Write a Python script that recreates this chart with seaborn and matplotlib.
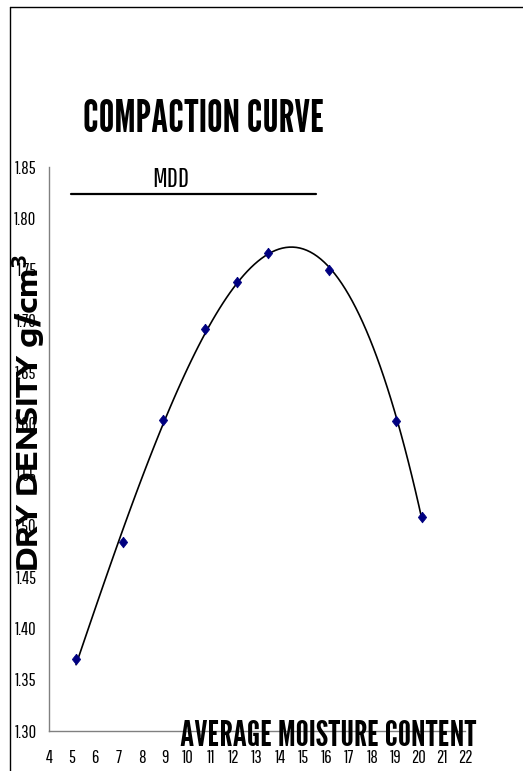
import matplotlib
matplotlib.use("Agg")
import matplotlib.pyplot as plt
import seaborn as sns
import pandas as pd
from matplotlib.lines import Line2D

# Data
moisture = [5.17, 7.2, 8.94, 10.75, 12.14, 13.48, 16.12, 19.02, 20.15]
dry_density = [1.370, 1.484, 1.603, 1.692, 1.738, 1.766, 1.750, 1.602, 1.509]
x_ticks = list(range(4, 23))
y_ticks = [1.30, 1.35, 1.40, 1.45, 1.50, 1.55, 1.60, 1.65, 1.70, 1.75, 1.80, 1.85]
mdd_level = 1.824
mdd_x = [4.95, 15.56]

df = pd.DataFrame({"moisture": moisture, "density": dry_density})

sns.set_theme(style="white")
TITLE_FONT = ["League Gothic", "Oswald", "DejaVu Sans"]
TICK_FONT = ["Pathway Gothic One", "Sofia Sans Extra Condensed", "DejaVu Sans"]
BOLD_FONT = ["Encode Sans Expanded", "Liberation Sans", "DejaVu Sans"]
plt.rcParams["font.family"] = TICK_FONT
plt.rcParams["text.color"] = "black"
plt.rcParams["mathtext.fontset"] = "custom"
plt.rcParams["mathtext.rm"] = "Encode Sans Expanded"
plt.rcParams["mathtext.bf"] = "Encode Sans Expanded:bold"

W, H = 523, 771
fig = plt.figure(figsize=(W / 100, H / 100), dpi=100)
renderer = fig.canvas.get_renderer()


def fit_size(text, family, weight, target_px, rotation=0):
    """Font size (pt) so the text's long dimension spans target_px."""
    t = fig.text(0, 0, text, fontsize=20, family=family, fontweight=weight,
                 rotation=rotation)
    bb = t.get_window_extent(renderer)
    t.remove()
    length = bb.height if rotation == 90 else bb.width
    return 20 * target_px / length


ax = fig.add_axes([49 / W, 1 - 731 / H, (465 - 49) / W, (731 - 167) / H])

sns.regplot(data=df, x="moisture", y="density", order=3, ci=None,
            scatter=False, truncate=True, ax=ax,
            line_kws=dict(color="black", lw=1.2))
diamond = [(0, 1), (0.78, 0), (0, -1), (-0.78, 0), (0, 1)]
sns.scatterplot(data=df, x="moisture", y="density", marker=diamond, s=60,
                color="#000080", edgecolor="#000080", linewidth=0.5,
                ax=ax, zorder=5)

ax.plot(mdd_x, [mdd_level, mdd_level], color="black", lw=1.6)
mdd_fs = fit_size("MDD", TICK_FONT, "normal", 37)
ax.text(9.25, mdd_level + 0.0015, "MDD", ha="center", va="bottom",
        fontsize=mdd_fs, family=TICK_FONT, color="black")

tick_fs = fit_size("1.85", TICK_FONT, "normal", 22)
ax.set_xlim(4, 22)
ax.set_ylim(1.30, 1.85)
ax.set_xticks(x_ticks)
ax.set_yticks(y_ticks)
ax.set_xticklabels([str(t) for t in x_ticks], fontsize=tick_fs, family=TICK_FONT)
ax.set_yticklabels([f"{t:.2f}" for t in y_ticks], fontsize=tick_fs, family=TICK_FONT)
ax.set_xlabel("")
ax.set_ylabel("")
for s in ["top", "right"]:
    ax.spines[s].set_visible(False)
for s in ["left", "bottom"]:
    ax.spines[s].set_color("#808080")
    ax.spines[s].set_linewidth(1.0)
ax.tick_params(axis="both", direction="out", length=3, width=1,
               color="#808080", labelcolor="#000000")
ax.tick_params(axis="y", pad=6)
ax.tick_params(axis="x", pad=11)

title_fs = fit_size("COMPACTION CURVE", TITLE_FONT, "normal", 242)
fig.text(204 / W, 1 - 119 / H, "COMPACTION CURVE", ha="center", va="center",
         fontsize=title_fs, family=TITLE_FONT, color="black")
xl_fs = fit_size("AVERAGE MOISTURE CONTENT", TITLE_FONT, "normal", 296)
fig.text(328 / W, 1 - 737 / H, "AVERAGE MOISTURE CONTENT", ha="center",
         va="center", fontsize=xl_fs, family=TITLE_FONT, color="black", zorder=10)
ylabel = r"DRY DENSITY g/cm$^{\mathbf{3}}$"
yl_fs = fit_size(ylabel, BOLD_FONT, "bold", 318, rotation=90)
fig.text(29 / W, 1 - 413 / H, ylabel, ha="center", va="center",
         rotation=90, fontsize=yl_fs, fontweight="bold", family=BOLD_FONT,
         color="black", zorder=10)

# chart frame
fig.add_artist(Line2D([9.5 / W, 9.5 / W], [0, 1 - 7 / H], color="black", lw=1,
                      transform=fig.transFigure))
fig.add_artist(Line2D([9.5 / W, 1.0], [1 - 7 / H, 1 - 7 / H], color="black",
                      lw=1, transform=fig.transFigure))

fig.savefig("out.png", dpi=100)
